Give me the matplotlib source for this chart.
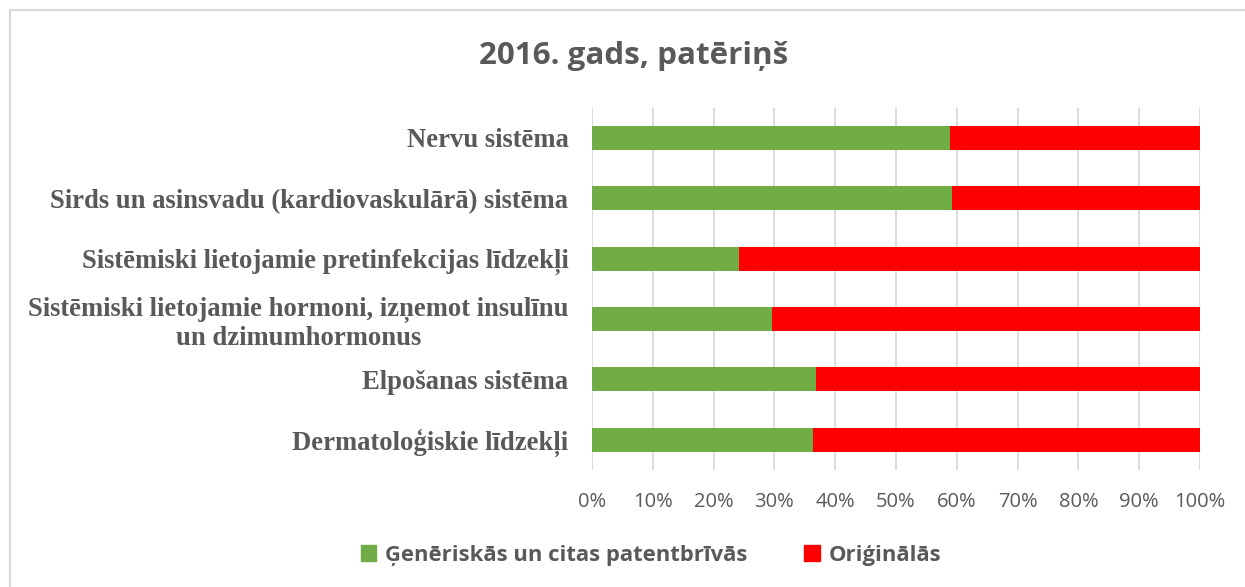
import matplotlib
matplotlib.use("Agg")
import matplotlib.pyplot as plt
from matplotlib.patches import Rectangle, Patch
from matplotlib.ticker import PercentFormatter

categories = [
    "Nervu sistēma",
    "Sirds un asinsvadu (kardiovaskulārā) sistēma",
    "Sistēmiski lietojamie pretinfekcijas līdzekļi",
    "Sistēmiski lietojamie hormoni, izņemot insulīnu\nun dzimumhormonus",
    "Elpošanas sistēma",
    "Dermatoloģiskie līdzekļi",
]
generic = [0.589, 0.592, 0.241, 0.296, 0.368, 0.364]
original = [1 - g for g in generic]
series_names = ["Ģenēriskās un citas patentbrīvās", "Oriģinālās"]
xticks = [i / 10 for i in range(11)]
title = "2016. gads, patēriņš"

GREEN = "#70AD47"
RED = "#FF0000"
GRAY = "#595959"
GRID = "#D9D9D9"

W, H = 1245, 587
fig = plt.figure(figsize=(W / 100, H / 100), dpi=100)
fig.patch.set_facecolor("white")

# outer chart border
fig.patches.append(Rectangle((10 / W, -0.1), 1.2, 1 - 10 / H + 0.1, transform=fig.transFigure,
                             fill=False, edgecolor=GRID, linewidth=1.5))

ax = fig.add_axes([592 / W, 1 - 470 / H, (1200 - 592) / W, (470 - 107.6) / H])
y = list(range(len(categories)))
ax.barh(y, generic, height=0.4, color=GREEN, label=series_names[0], zorder=3)
ax.barh(y, original, left=generic, height=0.4, color=RED, label=series_names[1], zorder=3)
ax.set_ylim(len(categories) - 0.5, -0.5)
ax.set_xlim(0, 1)
ax.set_xticks(xticks)
ax.xaxis.set_major_formatter(PercentFormatter(1.0, decimals=0))
ax.grid(axis="x", color=GRID, linewidth=1.3, zorder=0)
for s in ax.spines.values():
    s.set_visible(False)
ax.tick_params(axis="x", length=0, pad=16, labelsize=14.5, labelcolor=GRAY)
ax.tick_params(axis="y", length=0, pad=17)
ax.set_yticks(y)
ax.set_yticklabels(categories, fontfamily="Liberation Serif", fontweight="bold",
                   fontsize=19.2, color=GRAY, multialignment="center", linespacing=1.2)
for lab in ax.get_xticklabels():
    lab.set_fontfamily("Open Sans")

fig.text(634 / W, 1 - 56 / H, title, ha="center", va="center", fontsize=22.6,
         fontweight="bold", color=GRAY, fontfamily="Open Sans")

handles = [Patch(color=GREEN), Patch(color=RED)]
fig.legend(handles, series_names, loc="center", bbox_to_anchor=(651 / W, 1 - 555 / H),
           ncol=2, frameon=False, handlelength=0.7, handleheight=0.7, handletextpad=0.4,
           columnspacing=2.6, prop={"family": "Open Sans", "weight": "bold", "size": 15.8},
           labelcolor=GRAY)

fig.savefig("out.png", dpi=100)
